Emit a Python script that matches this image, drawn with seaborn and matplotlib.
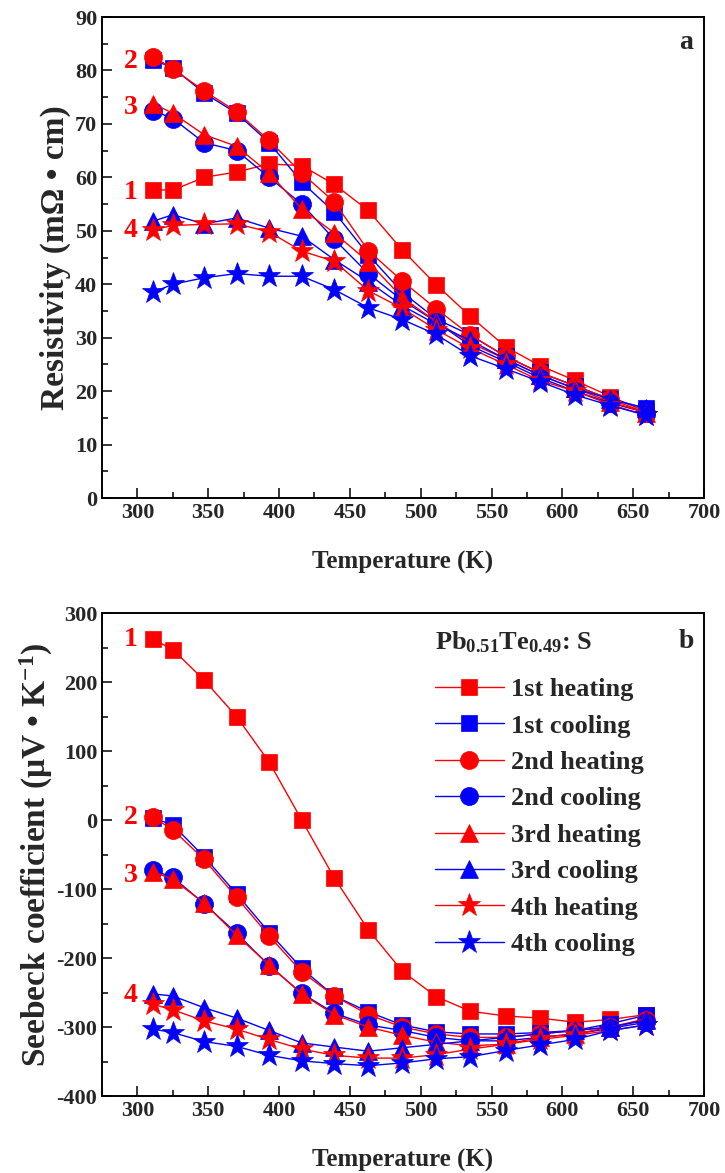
import matplotlib
matplotlib.use("Agg")
import matplotlib.pyplot as plt
import seaborn as sns
import pandas as pd
from matplotlib.ticker import MultipleLocator

# ---------------- data ----------------
T = [311, 325, 347, 370, 393, 416, 439, 463, 487, 511, 535, 560, 584, 609, 634, 659]

rho_h1 = [57.7, 57.6, 60.0, 61.0, 62.5, 62.2, 58.7, 53.8, 46.4, 39.9, 34.0, 28.3, 24.8, 22.0, 19.0, 16.2]
rho_c1 = [82.0, 80.5, 75.8, 72.0, 66.5, 59.1, 53.5, 45.5, 38.5, 33.5, 30.5, 26.5, 23.5, 21.0, 18.5, 16.8]
rho_h2 = [82.6, 80.3, 76.2, 72.3, 66.9, 60.8, 55.4, 46.3, 40.6, 35.4, 30.5, 26.5, 23.5, 21.0, 18.5, 16.0]
rho_c2 = [72.5, 71.0, 66.5, 65.0, 60.0, 55.0, 48.4, 42.0, 37.0, 33.0, 28.5, 25.5, 22.5, 20.0, 17.8, 16.0]
rho_h3 = [73.8, 72.0, 68.0, 65.8, 60.8, 54.1, 49.6, 44.2, 37.5, 33.0, 29.0, 26.0, 23.0, 20.5, 18.0, 16.0]
rho_c3 = [51.8, 53.0, 51.3, 52.4, 50.5, 49.0, 44.6, 40.5, 36.0, 32.5, 29.5, 26.0, 23.0, 20.5, 18.5, 16.8]
rho_h4 = [50.2, 51.0, 51.2, 51.3, 49.8, 46.2, 44.3, 38.8, 35.5, 31.5, 28.0, 25.0, 22.0, 20.0, 17.5, 15.5]
rho_c4 = [38.5, 40.0, 41.2, 42.0, 41.5, 41.5, 39.0, 35.6, 33.4, 30.6, 26.6, 24.2, 21.8, 19.3, 17.3, 15.5]

S_h1 = [262, 247, 203, 150, 84, 0, -84, -159, -219, -256, -277, -284, -287, -293, -289, -282]
S_c1 = [3, -7, -53, -107, -163, -215, -255, -278, -297, -307, -310, -310, -308, -305, -295, -283]
S_h2 = [4, -14, -57, -112, -168, -220, -255, -282, -300, -310, -315, -315, -310, -305, -300, -290]
S_c2 = [-73, -83, -121, -164, -211, -251, -280, -297, -305, -315, -320, -320, -315, -310, -302, -293]
S_h3 = [-75, -86, -120, -167, -210, -252, -282, -300, -312, -322, -327, -325, -315, -310, -300, -288]
S_c3 = [-252, -255, -272, -287, -305, -323, -329, -335, -330, -325, -320, -315, -310, -305, -300, -290]
S_h4 = [-267, -275, -291, -303, -318, -332, -341, -345, -345, -340, -332, -325, -318, -312, -305, -297]
S_c4 = [-303, -308, -321, -328, -341, -349, -353, -356, -352, -346, -343, -334, -326, -318, -305, -297]

series_names = ["1st heating", "1st cooling", "2nd heating", "2nd cooling",
                "3rd heating", "3rd cooling", "4th heating", "4th cooling"]
rho_all = [rho_h1, rho_c1, rho_h2, rho_c2, rho_h3, rho_c3, rho_h4, rho_c4]
S_all = [S_h1, S_c1, S_h2, S_c2, S_h3, S_c3, S_h4, S_c4]

cycle_labels = ["1", "2", "3", "4"]
rho_label_y = [57.1, 81.6, 73.0, 50.0]
S_label_y = [261, 3, -81, -254]

# ---------------- style ----------------
sns.set_theme(style="ticks")
plt.rcParams['font.family'] = ['Liberation Serif', 'DejaVu Serif']
plt.rcParams['font.weight'] = 'bold'
plt.rcParams['axes.labelweight'] = 'bold'
plt.rcParams['axes.unicode_minus'] = False
plt.rcParams['mathtext.fontset'] = 'custom'
plt.rcParams['mathtext.rm'] = 'Liberation Serif:bold'
plt.rcParams['mathtext.bf'] = 'Liberation Serif:bold'
plt.rcParams['mathtext.default'] = 'bf'

RED = "#ff0000"
BLUE = "#0000ff"
colors = [RED, BLUE] * 4
markers = ['s', 's', 'o', 'o', '^', '^', '*', '*']
msizes = [12, 12, 13, 13, 13, 13, 17, 17]

fig = plt.figure(figsize=(7.25, 11.73), dpi=100)
ax1 = fig.add_axes([0.1407, 0.5754, 0.8303, 0.4101])
ax2 = fig.add_axes([0.1407, 0.0656, 0.8303, 0.4118])

TICK_FS = 16
XLABEL_FS = 18
YLABEL_FS = 24
NUM_FS = 20


def draw(ax, data_all):
    for name, vals, c, m, ms in zip(series_names, data_all, colors, markers, msizes):
        df = pd.DataFrame({"T": T, "v": vals})
        sns.lineplot(data=df, x="T", y="v", ax=ax, color=c, marker=m,
                     markersize=ms, markeredgecolor=c, markeredgewidth=0.5,
                     linewidth=1.0, label=name, sort=False, estimator=None)
    ax.set_xlim(275, 700)
    ax.xaxis.set_major_locator(MultipleLocator(50))
    ax.xaxis.set_minor_locator(MultipleLocator(25))
    ax.tick_params(axis='both', which='both', direction='in', top=False, right=False,
                   labelsize=TICK_FS, width=1.3)
    ax.tick_params(which='major', length=7)
    ax.tick_params(which='minor', length=4)
    for lab in ax.get_xticklabels() + ax.get_yticklabels():
        lab.set_fontweight('bold')
    for sp in ax.spines.values():
        sp.set_linewidth(1.4)
        sp.set_color('black')
    ax.set_xlabel("Temperature (K)", fontsize=XLABEL_FS, fontweight='bold', labelpad=20)


draw(ax1, rho_all)
ax1.set_ylim(0, 90)
ax1.yaxis.set_major_locator(MultipleLocator(10))
ax1.yaxis.set_minor_locator(MultipleLocator(5))
ax1.set_ylabel("Resistivity (mΩ • cm)", fontsize=YLABEL_FS, fontweight='bold', labelpad=3)
ax1.get_legend().remove()
ax1.text(0.97, 0.946, "a", transform=ax1.transAxes, fontsize=20, fontweight='bold',
         ha='center', va='center')
for lab, yv in zip(cycle_labels, rho_label_y):
    ax1.text(295, yv, lab, color=RED, fontsize=NUM_FS, fontweight='bold', ha='center', va='center')

draw(ax2, S_all)
ax2.set_ylim(-400, 300)
ax2.yaxis.set_major_locator(MultipleLocator(100))
ax2.yaxis.set_minor_locator(MultipleLocator(50))
ax2.set_ylabel("Seebeck coefficient (μV • K$^{\\mathbf{-1}}$)", fontsize=YLABEL_FS,
               fontweight='bold', labelpad=1)
ax2.text(0.97, 0.94, "b", transform=ax2.transAxes, fontsize=20, fontweight='bold',
         ha='center', va='center')
for lab, yv in zip(cycle_labels, S_label_y):
    ax2.text(295, yv, lab, color=RED, fontsize=NUM_FS, fontweight='bold', ha='center', va='center')

ax2.text(0.553, 0.94, "Pb$_{0.51}$Te$_{0.49}$: S", transform=ax2.transAxes,
         fontsize=19, fontweight='bold', ha='left', va='center')
leg = ax2.legend(loc='upper left', bbox_to_anchor=(0.553, 0.866), frameon=False,
                 fontsize=19, handlelength=2.6, handletextpad=0.3, labelspacing=0.49,
                 borderpad=0, borderaxespad=0)
for t in leg.get_texts():
    t.set_fontweight('bold')

fig.savefig("out.png", dpi=100, facecolor='white')
